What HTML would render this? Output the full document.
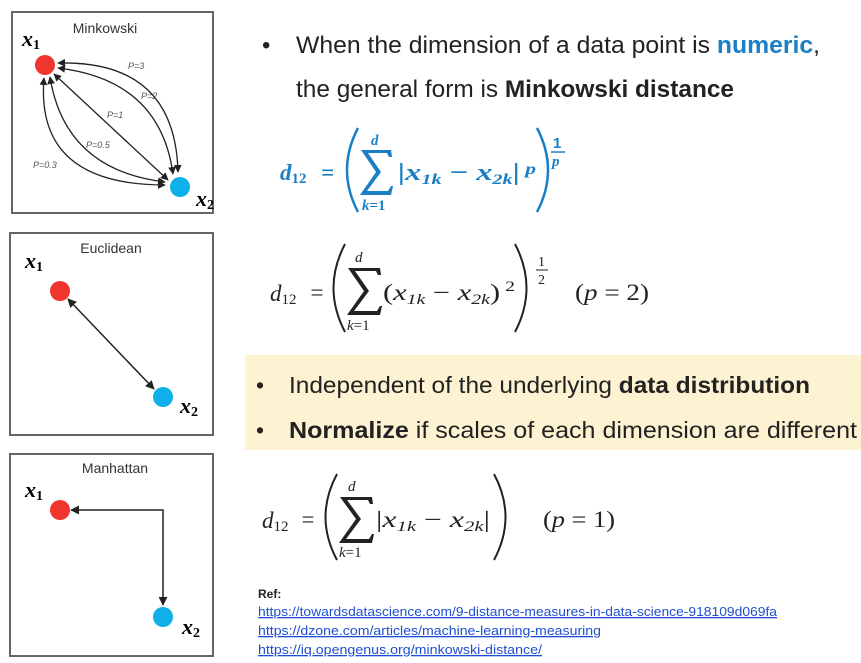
<!DOCTYPE html>
<html><head><meta charset="utf-8"><style>
html,body{margin:0;padding:0;background:#fff;}
svg{display:block;}
.m{font-family:"Liberation Serif","DejaVu Serif",serif;font-style:italic;}
.s{font-family:"Liberation Sans",sans-serif;}
</style></head><body>
<svg width="861" height="663" viewBox="0 0 861 663" xmlns="http://www.w3.org/2000/svg">
<defs>
<marker id="ah" viewBox="0 0 10 10" refX="9" refY="5" markerWidth="6" markerHeight="6" orient="auto-start-reverse"><path d="M0,0L10,5L0,10z" fill="#222"/></marker>
</defs>
<g>
<rect x="12" y="12" width="201" height="201" fill="#fff" stroke="#666" stroke-width="2"/>
<text x="105" y="33" class="s" font-size="14" fill="#333" text-anchor="middle">Minkowski</text>
<g fill="none" stroke="#222" stroke-width="1.3" marker-start="url(#ah)" marker-end="url(#ah)">
<path d="M58,63 Q175,60 178,172"/>
<path d="M58,68 Q160,80 173,174"/>
<path d="M54,74 L168,180"/>
<path d="M50,77 Q65,170 165,182"/>
<path d="M44,78 Q35,185 165,185"/>
</g>
<g class="s" font-size="9" fill="#555" font-style="italic">
<text x="128" y="69">P=3</text><text x="141" y="99">P=2</text><text x="107" y="118">P=1</text>
<text x="86" y="148">P=0.5</text><text x="33" y="168">P=0.3</text></g>
<circle cx="45" cy="65" r="10" fill="#f0352f"/>
<circle cx="180" cy="187" r="10" fill="#0fb0ea"/>
<text x="22" y="46" class="m" font-size="22" font-weight="bold">x<tspan font-size="14" dy="3" font-style="normal">1</tspan></text>
<text x="196" y="206" class="m" font-size="22" font-weight="bold">x<tspan font-size="14" dy="3" font-style="normal">2</tspan></text>
</g>
<g>
<rect x="10" y="233" width="203" height="202" fill="#fff" stroke="#666" stroke-width="2"/>
<text x="111" y="253" class="s" font-size="14" fill="#333" text-anchor="middle">Euclidean</text>
<line x1="68" y1="299" x2="154" y2="389" stroke="#222" stroke-width="1.5" marker-start="url(#ah)" marker-end="url(#ah)"/>
<circle cx="60" cy="291" r="10" fill="#f0352f"/>
<circle cx="163" cy="397" r="10" fill="#0fb0ea"/>
<text x="25" y="268" class="m" font-size="22" font-weight="bold">x<tspan font-size="14" dy="3" font-style="normal">1</tspan></text>
<text x="180" y="413" class="m" font-size="22" font-weight="bold">x<tspan font-size="14" dy="3" font-style="normal">2</tspan></text>
</g>
<g>
<rect x="10" y="454" width="203" height="202" fill="#fff" stroke="#666" stroke-width="2"/>
<text x="115" y="473" class="s" font-size="14" fill="#333" text-anchor="middle">Manhattan</text>
<path d="M71,510 L163,510 L163,605" fill="none" stroke="#222" stroke-width="1.5" marker-start="url(#ah)" marker-end="url(#ah)"/>
<circle cx="60" cy="510" r="10" fill="#f0352f"/>
<circle cx="163" cy="617" r="10" fill="#0fb0ea"/>
<text x="25" y="497" class="m" font-size="22" font-weight="bold">x<tspan font-size="14" dy="3" font-style="normal">1</tspan></text>
<text x="182" y="634" class="m" font-size="22" font-weight="bold">x<tspan font-size="14" dy="3" font-style="normal">2</tspan></text>
</g>
<g class="s" font-size="24" fill="#222">
<text x="262" y="53">•</text>
<text x="296" y="53" textLength="524" lengthAdjust="spacingAndGlyphs">When the dimension of a data point is <tspan fill="#1a7fc4" font-weight="bold">numeric</tspan>,</text>
<text x="296" y="97" textLength="438" lengthAdjust="spacingAndGlyphs">the general form is <tspan font-weight="bold">Minkowski distance</tspan></text>
</g>
<g fill="#1a7fc4" font-weight="bold">
<text x="280" y="180" class="m" font-size="23">d<tspan font-size="15" dy="3" font-style="normal">12</tspan></text>
<text x="321" y="180" class="m" font-size="23" font-style="normal">=</text>
<path d="M358,128 Q336,170 358,212" fill="none" stroke="#1a7fc4" stroke-width="2.5"/>
<path d="M361,150 H391 L392,157 H389 L387,153 H368 L381,172 L367,191 H388 L391,186 H393 L391,195 H360 L376,172 Z" stroke="none"/>
<text x="371" y="145" class="m" font-size="15">d</text>
<text x="362" y="210" class="m" font-size="15">k<tspan font-style="normal">=1</tspan></text>
<text x="398" y="180" class="m" font-size="24" textLength="138" lengthAdjust="spacingAndGlyphs">|x<tspan font-size="15" dy="4">1k</tspan><tspan dy="-4" font-style="normal">  −  </tspan>x<tspan font-size="15" dy="4">2k</tspan><tspan dy="-4" font-style="normal">|</tspan><tspan font-size="16" dy="-6"> p</tspan></text>
<path d="M537,128 Q559,170 537,212" fill="none" stroke="#1a7fc4" stroke-width="2.5"/>
<text x="553" y="148" font-size="15" font-family="Liberation Sans">1</text>
<line x1="551" y1="152" x2="565" y2="152" stroke="#1a7fc4" stroke-width="1.5"/>
<text x="552" y="166" class="m" font-size="15">p</text>
</g>
<g fill="#222">
<text x="270" y="301" class="m" font-size="23">d<tspan font-size="15" dy="3" font-style="normal">12</tspan></text>
<text x="309" y="300" class="m" font-size="23" font-style="normal">=</text>
<path d="M345,244 Q322,288 345,332" fill="none" stroke="#222" stroke-width="2"/>
<path d="M348,268 H380 L381,275 H378 L376,271 H355 L369,291 L354,311 H377 L380,306 H382 L380,315 H347 L364,291 Z"/>
<text x="355" y="262" class="m" font-size="15">d</text>
<text x="347" y="330" class="m" font-size="15">k<tspan font-style="normal">=1</tspan></text>
<text x="383" y="300" class="m" font-size="23" textLength="132" lengthAdjust="spacingAndGlyphs"><tspan font-style="normal">(</tspan>x<tspan font-size="15" dy="4">1k</tspan><tspan dy="-4" font-style="normal">  −  </tspan>x<tspan font-size="15" dy="4">2k</tspan><tspan dy="-4" font-style="normal">)</tspan><tspan font-size="15" dy="-9" font-style="normal"> 2</tspan></text>
<path d="M515,244 Q538,288 515,332" fill="none" stroke="#222" stroke-width="2"/>
<text x="538" y="266" font-size="14" font-family="Liberation Serif">1</text>
<line x1="536" y1="270" x2="548" y2="270" stroke="#222" stroke-width="1"/>
<text x="538" y="284" font-size="14" font-family="Liberation Serif">2</text>
<text x="575" y="300" class="m" font-size="23" textLength="74" lengthAdjust="spacingAndGlyphs"><tspan font-style="normal">(</tspan>p <tspan font-style="normal">= 2)</tspan></text>
</g>
<g>
<rect x="245" y="355" width="616" height="95" fill="#fdf2d2"/>
<g class="s" font-size="23" fill="#222">
<text x="256" y="393">•</text>
<text x="289" y="393" textLength="521" lengthAdjust="spacingAndGlyphs">Independent of the underlying <tspan font-weight="bold">data distribution</tspan></text>
<text x="256" y="438">•</text>
<text x="289" y="438" textLength="568" lengthAdjust="spacingAndGlyphs"><tspan font-weight="bold">Normalize</tspan> if scales of each dimension are different</text>
</g></g>
<g fill="#222">
<text x="262" y="528" class="m" font-size="23">d<tspan font-size="15" dy="3" font-style="normal">12</tspan></text>
<text x="300" y="527" class="m" font-size="23" font-style="normal">=</text>
<path d="M337,474 Q314,517 337,560" fill="none" stroke="#222" stroke-width="2"/>
<path d="M340,497 H372 L373,504 H370 L368,500 H347 L361,519 L346,539 H369 L372,534 H374 L372,543 H339 L356,519 Z"/>
<text x="348" y="491" class="m" font-size="15">d</text>
<text x="339" y="557" class="m" font-size="15">k<tspan font-style="normal">=1</tspan></text>
<text x="376" y="527" class="m" font-size="23" textLength="114" lengthAdjust="spacingAndGlyphs"><tspan font-style="normal">|</tspan>x<tspan font-size="15" dy="4">1k</tspan><tspan dy="-4" font-style="normal">  −  </tspan>x<tspan font-size="15" dy="4">2k</tspan><tspan dy="-4" font-style="normal">|</tspan></text>
<path d="M494,474 Q517,517 494,560" fill="none" stroke="#222" stroke-width="2"/>
<text x="543" y="527" class="m" font-size="23" textLength="72" lengthAdjust="spacingAndGlyphs"><tspan font-style="normal">(</tspan>p <tspan font-style="normal">= 1)</tspan></text>
</g>
<g class="s" font-size="13">
<text x="258" y="598" font-size="12" font-weight="bold" fill="#222">Ref:</text>
<text x="258" y="616" fill="#1f4fd1" text-decoration="underline" textLength="519" lengthAdjust="spacingAndGlyphs">https://towardsdatascience.com/9-distance-measures-in-data-science-918109d069fa</text>
<text x="258" y="635" fill="#1f4fd1" text-decoration="underline" textLength="343" lengthAdjust="spacingAndGlyphs">https://dzone.com/articles/machine-learning-measuring</text>
<text x="258" y="654" fill="#1f4fd1" text-decoration="underline" textLength="284" lengthAdjust="spacingAndGlyphs">https://iq.opengenus.org/minkowski-distance/</text>
</g>
</svg>
</body></html>
